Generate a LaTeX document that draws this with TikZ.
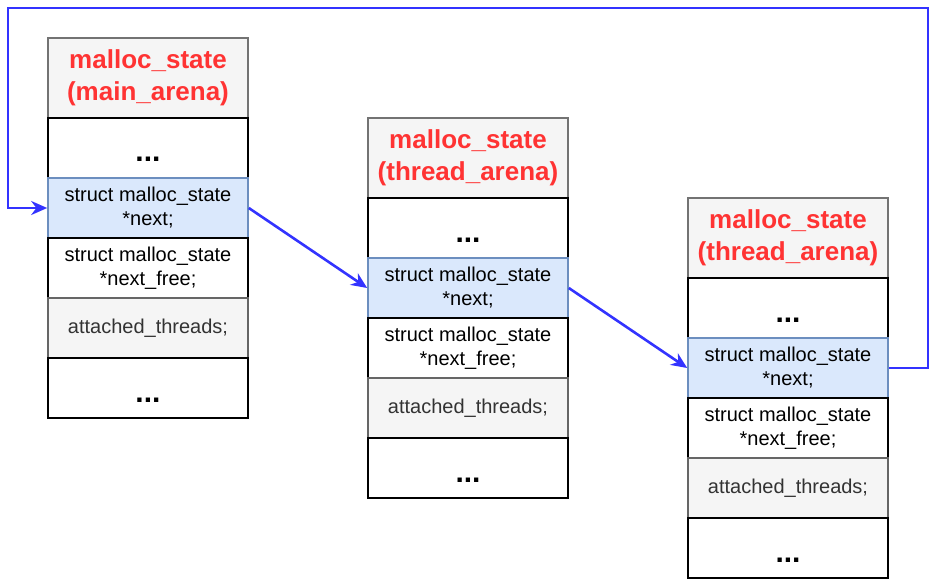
\documentclass[tikz,border=0pt]{standalone}
\usepackage{fontspec}
\setmainfont{Liberation Sans}
\usetikzlibrary{arrows.meta}

\definecolor{linkblue}{HTML}{3333FF}
\definecolor{headred}{HTML}{FF3333}
\definecolor{headgray}{HTML}{F5F5F5}
\definecolor{nextfill}{HTML}{DAE8FC}
\definecolor{nextline}{HTML}{6C8EBF}

\begin{document}
\begin{tikzpicture}[x=1pt, y=-1pt,
  cell/.style={draw=black, line width=1.6pt, fill=white, minimum width=200pt,
    minimum height=60pt, inner sep=0pt, align=center, font=\fontsize{20}{24}\selectfont},
  head/.style={cell, draw=black!55, fill=headgray, minimum height=80pt, text=headred,
    font=\bfseries\fontsize{26}{32}\selectfont},
  nextcell/.style={cell, draw=nextline, fill=nextfill},
  thrcell/.style={cell, draw=black!60, fill=headgray, text=black!80},
  dotcell/.style={cell, text height=28pt, text depth=0pt, font=\bfseries\fontsize{30}{34}\selectfont},
  link/.style={draw=linkblue, line width=2.6pt, -{Stealth[length=16pt,width=14pt]}}]
\useasboundingbox (0,0) rectangle (939,580);
% main arena
\node[head] (h1) at (148,78) {malloc\_state\\(main\_arena)};
\node[dotcell] (a1) at (148,148) {...};
\node[nextcell] (n1) at (148,208) {struct malloc\_state\\*next;};
\node[cell] (f1) at (148,268) {struct malloc\_state\\*next\_free;};
\node[thrcell] (t1) at (148,328) {attached\_threads;};
\node[dotcell] (b1) at (148,388) {...};
% first thread arena
\node[head] (h2) at (468,158) {malloc\_state\\(thread\_arena)};
\node[dotcell] (a2) at (468,228) {...};
\node[nextcell] (n2) at (468,288) {struct malloc\_state\\*next;};
\node[cell] (f2) at (468,348) {struct malloc\_state\\*next\_free;};
\node[thrcell] (t2) at (468,408) {attached\_threads;};
\node[dotcell] (b2) at (468,468) {...};
% second thread arena
\node[head] (h3) at (788,238) {malloc\_state\\(thread\_arena)};
\node[dotcell] (a3) at (788,308) {...};
\node[nextcell] (n3) at (788,368) {struct malloc\_state\\*next;};
\node[cell] (f3) at (788,428) {struct malloc\_state\\*next\_free;};
\node[thrcell] (t3) at (788,488) {attached\_threads;};
\node[dotcell] (b3) at (788,548) {...};
% next links
\coordinate (tr) at (928,8);
\coordinate (tl) at (8,8);
\draw[link] (n1.east) -- (n2.west);
\draw[link] (n2.east) -- (n3.west);
\draw[link] (n3.east) -| (tr) -- (tl) |- (n1.west);
\end{tikzpicture}
\end{document}
